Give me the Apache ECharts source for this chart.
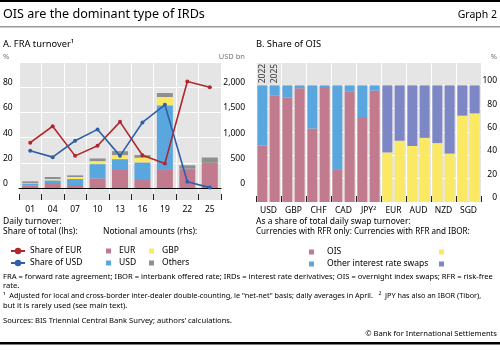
<!DOCTYPE html>
<html>
<head>
<meta charset="utf-8">
<script src="https://cdn.jsdelivr.net/npm/echarts@6/dist/echarts.min.js"></script>
<style>
html, body { margin: 0; padding: 0; background: #fff; }
#chart { width: 500px; height: 352px; }
</style>
</head>
<body>
<div id="chart"></div>
<script>
// Panel A: FRA turnover
const fraYears = ['01', '04', '07', '10', '13', '16', '19', '22', '25'];
const fraEurShare = [36, 49, 25.5, 33.5, 52.5, 26, 19.5, 84.5, 80];
const fraUsdShare = [29.5, 24.5, 37.5, 46.5, 25.5, 52, 66, 5, 0.3];
const fraEurAmt = [45, 99, 59, 191, 375, 158, 375, 375, 500];
const fraUsdAmt = [47, 53, 119, 283, 198, 350, 1265, 10, 0];
const fraGbpAmt = [8, 26, 40, 59, 79, 92, 165, 0, 0];
const fraOtherAmt = [32, 40, 33, 53, 79, 53, 79, 66, 105];

// Panel B: share of OIS (2022 / 2025)
const oisCcy = ['USD', 'GBP', 'CHF', 'CAD', 'JPY', 'EUR', 'AUD', 'NZD', 'SGD'];
const rfrOnly = [true, true, true, true, true, false, false, false, false];
const ois2022 = [48.5, 89.5, 63, 27.5, 72, 42.5, 48, 50.5, 74];
const other2022 = [51.5, 10.5, 37, 72.5, 28, 57.5, 52, 49.5, 26];
const ois2025 = [91.5, 97.5, 98.5, 95, 95.5, 52.5, 55, 41.5, 76];
const other2025 = [8.5, 2.5, 1.5, 5, 4.5, 47.5, 45, 58.5, 24];

const FONT = '"Noto Sans", sans-serif';
const BG = '#e5e5e5';
const C = {
  pink: '#c17a8e', blue: '#5aa7e0', yellow: '#fbe863', grey: '#8f8f8f',
  purple: '#7d87c6', red: '#b0282e', navy: '#2f5fa7'
};

function pick(arr, rfr) {
  return arr.map((v, i) => rfrOnly[i] === rfr ? v : '-');
}

function oisSeries(year, ois, other) {
  const stack = 'y' + year;
  const common = { type: 'bar', xAxisIndex: 2, yAxisIndex: 3, stack: stack,
    barGap: '24%', barCategoryGap: '11%' };
  const otherRfr = pick(other, true);
  otherRfr[0] = {
    value: otherRfr[0],
    label: { show: true, formatter: String(year), position: 'top', rotate: 90,
      align: 'left', verticalAlign: 'middle', distance: 2,
      fontSize: 8.5, color: '#333', fontFamily: FONT }
  };
  return [
    Object.assign({ name: 'OIS', data: pick(ois, true), itemStyle: { color: C.pink } }, common),
    Object.assign({ name: 'Other interest rate swaps', data: otherRfr, itemStyle: { color: C.blue } }, common),
    Object.assign({ name: 'OIS (RFR and IBOR)', data: pick(ois, false), itemStyle: { color: C.yellow } }, common),
    Object.assign({ name: 'Other (RFR and IBOR)', data: pick(other, false), itemStyle: { color: C.purple } }, common)
  ];
}

function txt(x, y, text, size, opts) {
  return {
    type: 'text', x: x, y: y, silent: true,
    style: Object.assign({
      text: text, fill: '#000', font: size + 'px ' + FONT,
      textAlign: 'left', textVerticalAlign: 'middle'
    }, opts || {})
  };
}

const chart = echarts.init(document.getElementById('chart'));

const legendText = { fontSize: 8.5, color: '#000', fontFamily: FONT, lineHeight: 12 };

chart.setOption({
  animation: false,
  textStyle: { fontFamily: FONT },
  grid: [
    { left: 19, right: 279, top: 62, bottom: 152, show: true, backgroundColor: BG, borderWidth: 0 },
    { left: 19, right: 279, top: 62, bottom: 164 },
    { left: 256, right: 19, top: 62, bottom: 150, show: true, backgroundColor: BG, borderWidth: 0 }
  ],
  xAxis: [
    { gridIndex: 0, type: 'category', position: 'bottom', data: fraYears,
      axisLine: { show: false },
      axisTick: { show: true, inside: true, length: 6, lineStyle: { color: '#222' } },
      splitLine: { show: true, lineStyle: { color: '#fff', width: 1 } },
      axisLabel: { fontSize: 8.5, color: '#000', margin: 5, interval: 0 } },
    { gridIndex: 1, type: 'category', position: 'bottom', data: fraYears,
      axisLine: { show: true, lineStyle: { color: '#000', width: 1 } },
      axisTick: { show: false }, axisLabel: { show: false }, splitLine: { show: false } },
    { gridIndex: 2, type: 'category', position: 'bottom', data: oisCcy,
      axisLine: { show: false },
      axisTick: { show: true, inside: true, length: 6, lineStyle: { color: '#222' } },
      splitLine: { show: true, lineStyle: { color: '#fff', width: 1 } },
      axisLabel: { fontSize: 8.5, color: '#000', margin: 4, interval: 0,
        formatter: v => v === 'JPY' ? 'JPY²' : v } }
  ],
  yAxis: [
    { gridIndex: 0, type: 'value', show: false, min: 0, max: 1, splitLine: { show: false } },
    { gridIndex: 1, type: 'value', min: 0, max: 100, interval: 20,
      axisLine: { show: false }, axisTick: { show: false },
      splitLine: { lineStyle: { color: '#fff', width: 1 } },
      axisLabel: { fontSize: 8.5, color: '#000', align: 'left', verticalAlign: 'bottom', margin: 16,
        formatter: v => v === 100 ? '' : String(v) } },
    { gridIndex: 1, type: 'value', position: 'right', min: 0, max: 2500, interval: 500,
      axisLine: { show: false }, axisTick: { show: false }, splitLine: { show: false },
      axisLabel: { fontSize: 8.5, color: '#000', align: 'right', verticalAlign: 'bottom', margin: 24,
        formatter: v => v === 2500 ? '' : v.toLocaleString('en-US') } },
    { gridIndex: 2, type: 'value', position: 'right', min: 0, max: 120, interval: 20,
      axisLine: { show: false }, axisTick: { show: false },
      splitLine: { lineStyle: { color: '#fff', width: 1 } },
      axisLabel: { fontSize: 8.5, color: '#000', align: 'right', verticalAlign: 'bottom', margin: 16,
        formatter: v => v === 120 ? '' : String(v) } }
  ],
  legend: [
    { orient: 'vertical', left: 5, top: 240, itemGap: 0, itemWidth: 14, itemHeight: 8,
      selectedMode: false, data: ['Share of EUR', 'Share of USD'], textStyle: legendText },
    { orient: 'horizontal', left: 101, top: 240, itemGap: 4, itemWidth: 5, itemHeight: 5, icon: 'rect',
      selectedMode: false, data: ['EUR', 'GBP'],
      textStyle: Object.assign({ width: 26, padding: [0, 0, 0, 3] }, legendText) },
    { orient: 'horizontal', left: 101, top: 252, itemGap: 4, itemWidth: 5, itemHeight: 5, icon: 'rect',
      selectedMode: false, data: ['USD', 'Others'],
      textStyle: Object.assign({ width: 26, padding: [0, 0, 0, 3] }, legendText) },
    { orient: 'vertical', left: 304, top: 241, itemGap: 0, itemWidth: 5, itemHeight: 5, icon: 'rect',
      selectedMode: false, data: ['OIS', 'Other interest rate swaps'],
      textStyle: Object.assign({ padding: [0, 0, 0, 8] }, legendText) },
    { orient: 'vertical', left: 434, top: 241, itemGap: 0, itemWidth: 5, itemHeight: 5, icon: 'rect',
      selectedMode: false, data: ['OIS (RFR and IBOR)', 'Other (RFR and IBOR)'],
      formatter: () => ' ', textStyle: legendText }
  ],
  series: [
    { name: 'EUR', type: 'bar', xAxisIndex: 1, yAxisIndex: 2, stack: 'amt', barWidth: 16,
      data: fraEurAmt, itemStyle: { color: C.pink } },
    { name: 'USD', type: 'bar', xAxisIndex: 1, yAxisIndex: 2, stack: 'amt', barWidth: 16,
      data: fraUsdAmt, itemStyle: { color: C.blue } },
    { name: 'GBP', type: 'bar', xAxisIndex: 1, yAxisIndex: 2, stack: 'amt', barWidth: 16,
      data: fraGbpAmt, itemStyle: { color: C.yellow } },
    { name: 'Others', type: 'bar', xAxisIndex: 1, yAxisIndex: 2, stack: 'amt', barWidth: 16,
      data: fraOtherAmt, itemStyle: { color: C.grey } },
    { name: 'Share of EUR', type: 'line', xAxisIndex: 1, yAxisIndex: 1, data: fraEurShare,
      symbol: 'circle', symbolSize: 4, lineStyle: { color: C.red, width: 1.6 },
      itemStyle: { color: C.red } },
    { name: 'Share of USD', type: 'line', xAxisIndex: 1, yAxisIndex: 1, data: fraUsdShare,
      symbol: 'circle', symbolSize: 4, lineStyle: { color: C.navy, width: 1.6 },
      itemStyle: { color: C.navy } }
  ].concat(oisSeries(2022, ois2022, other2022), oisSeries(2025, ois2025, other2025)),
  graphic: [
    { type: 'rect', shape: { x: 0, y: 0, width: 500, height: 2 }, style: { fill: '#000' }, silent: true },
    { type: 'rect', shape: { x: 0, y: 26, width: 500, height: 1.5 }, style: { fill: '#999' }, silent: true },
    { type: 'rect', shape: { x: 0, y: 342, width: 500, height: 2.5 }, style: { fill: '#000' }, silent: true },
    txt(3, 14, 'OIS are the dominant type of IRDs', 12.6),
    txt(497, 15, 'Graph 2', 10.5, { textAlign: 'right' }),
    txt(3, 44, 'A. FRA turnover¹', 9.3),
    txt(256, 44, 'B. Share of OIS', 9.3),
    txt(3, 57, '%', 7.5, { fill: '#777' }),
    txt(245, 57, 'USD bn', 7.5, { fill: '#777', textAlign: 'right' }),
    txt(497, 57, '%', 7.5, { fill: '#777', textAlign: 'right' }),
    txt(3, 222, 'Daily turnover:', 8.5),
    txt(3, 232, 'Share of total (lhs):', 8.5),
    txt(103, 232, 'Notional amounts (rhs):', 8.5),
    txt(256, 222, 'As a share of total daily swap turnover:', 8.5),
    txt(256, 232, 'Currencies with RFR only:', 8.1),
    txt(354, 232, 'Currencies with RFR and IBOR:', 8.1),
    txt(3, 277, 'FRA = forward rate agreement; IBOR = interbank offered rate; IRDs = interest rate derivatives; OIS = overnight index swaps; RFR = risk-free', 7.6),
    txt(3, 286, 'rate.', 7.6),
    txt(3, 296, '¹  Adjusted for local and cross-border inter-dealer double-counting, ie "net-net" basis; daily averages in April.   ²  JPY has also an IBOR (Tibor),', 7.3),
    txt(3, 306, 'but it is rarely used (see main text).', 7.6),
    txt(3, 321, 'Sources: BIS Triennial Central Bank Survey; authors\u2019 calculations.', 7.6),
    txt(497, 334, '\u00a9 Bank for International Settlements', 7.6, { textAlign: 'right' })
  ]
});
</script>
</body>
</html>
